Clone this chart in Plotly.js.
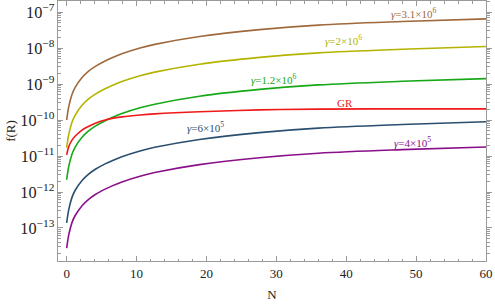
<!DOCTYPE html>
<html>
<head>
<meta charset="utf-8">
<script src="https://cdn.plot.ly/plotly-3.0.1.min.js"></script>
<style>html,body{margin:0;padding:0;background:#fff;}#chart{width:495px;height:307px;}</style>
</head>
<body>
<div id="chart"></div>
<script>
// N values (x axis)
const N = [0, 0.3, 0.76, 1.2, 2.2, 3.1, 4.1, 5.5, 6.5, 7.9, 10.5, 12.6, 19, 27.6, 36, 48, 60];
// f(R) series
const g31e6 = [1.0e-10, 2.34e-10, 5.13e-10, 7.94e-10, 1.51e-9, 2.24e-9, 3.09e-9, 4.37e-9, 5.37e-9, 6.92e-9, 1.0e-8, 1.26e-8, 2.09e-8, 3.24e-8, 4.32e-8, 5.43e-8, 6.46e-8];
const g2e6  = [1.70e-11, 3.98e-11, 8.71e-11, 1.35e-10, 2.57e-10, 3.80e-10, 5.25e-10, 7.41e-10, 9.12e-10, 1.175e-9, 1.70e-9, 2.14e-9, 3.55e-9, 5.50e-9, 7.33e-9, 9.23e-9, 1.10e-8];
const g12e6 = [2.19e-12, 5.13e-12, 1.12e-11, 1.74e-11, 3.31e-11, 4.90e-11, 6.76e-11, 9.55e-11, 1.175e-10, 1.51e-10, 2.19e-10, 2.75e-10, 4.57e-10, 7.08e-10, 9.44e-10, 1.19e-9, 1.41e-9];
const gr    = [1.07e-11, 1.82e-11, 2.75e-11, 3.55e-11, 5.25e-11, 6.61e-11, 8.13e-11, 1.0e-10, 1.11e-10, 1.22e-10, 1.38e-10, 1.48e-10, 1.70e-10, 1.91e-10, 2.0e-10, 2.04e-10, 2.04e-10];
const g6e5  = [1.38e-13, 3.24e-13, 7.08e-13, 1.10e-12, 2.09e-12, 3.09e-12, 4.27e-12, 6.03e-12, 7.41e-12, 9.55e-12, 1.38e-11, 1.74e-11, 2.88e-11, 4.47e-11, 5.96e-11, 7.50e-11, 8.91e-11];
const g4e5  = [2.75e-14, 6.46e-14, 1.41e-13, 2.19e-13, 4.17e-13, 6.17e-13, 8.51e-13, 1.20e-12, 1.48e-12, 1.91e-12, 2.75e-12, 3.47e-12, 5.75e-12, 8.91e-12, 1.19e-11, 1.50e-11, 1.78e-11];

const seriesNames = ['γ=3.1×10⁶', 'γ=2×10⁶', 'γ=1.2×10⁶', 'GR', 'γ=6×10⁵', 'γ=4×10⁵'];
const seriesData = [g31e6, g2e6, g12e6, gr, g6e5, g4e5];
const colors = ['#a0693c', '#b4b400', '#16a816', '#f01818', '#2a4f6e', '#8a108a'];

// label texts and anchor positions (N, value)
const labelTexts = ['<i>γ</i>=3.1×10<sup>6</sup>', '<i>γ</i>=2×10<sup>6</sup>', '<i>γ</i>=1.2×10<sup>6</sup>', 'GR', '<i>γ</i>=6×10<sup>5</sup>', '<i>γ</i>=4×10<sup>5</sup>'];
const labelN = [49.7, 39.6, 29.7, 39.8, 19.9, 49.5];
const labelV = [9.5e-8, 1.62e-8, 1.35e-9, 2.95e-10, 6.2e-11, 2.47e-11];

const traces = seriesData.map((d, i) => ({
  x: N, y: d, type: 'scatter', mode: 'lines', name: seriesNames[i],
  line: {color: colors[i], width: 1.6, shape: 'spline', smoothing: 1.0},
  hoverinfo: 'skip'
}));
// invisible trace to carry the right-hand frame axis
traces.push({x: N, y: gr, yaxis: 'y2', type: 'scatter', mode: 'lines', line: {width: 0}, opacity: 0, hoverinfo: 'skip', showlegend: false});

const tickFont = {family: 'Liberation Serif, Times New Roman, serif', size: 13, color: '#222'};
const frameColor = '#9a9a9a';
const yr = [-13.917, -6.694];

const annotations = labelTexts.map((t, i) => ({
  x: labelN[i], y: Math.log10(labelV[i]), xref: 'x', yref: 'y', text: t, showarrow: false,
  font: {family: 'Liberation Serif, Times New Roman, serif', size: 11, color: colors[i]},
  xanchor: 'center', yanchor: 'middle'
}));

const layout = {
  width: 495, height: 307,
  margin: {l: 58, r: 9, t: 1, b: 46},
  paper_bgcolor: '#fff', plot_bgcolor: '#fff',
  showlegend: false,
  xaxis: {
    range: [-1.24, 60], showgrid: false, zeroline: false,
    showline: true, linecolor: frameColor, linewidth: 1, mirror: 'ticks',
    ticks: 'inside', ticklen: 5, tickcolor: frameColor, tickwidth: 1,
    tick0: 0, dtick: 10,
    minor: {ticks: 'inside', ticklen: 2.5, dtick: 2, tickcolor: frameColor, showgrid: false},
    tickfont: tickFont,
    title: {text: 'N', font: {family: 'Liberation Serif, Times New Roman, serif', size: 13, color: '#222'}, standoff: 10}
  },
  yaxis: {
    type: 'log', range: yr, showgrid: false, zeroline: false,
    showline: true, linecolor: frameColor, linewidth: 1, mirror: true,
    ticks: 'inside', ticklen: 5, tickcolor: frameColor, tickwidth: 1,
    dtick: 1, exponentformat: 'power',
    minor: {ticks: 'inside', ticklen: 2.5, tickcolor: frameColor, showgrid: false},
    tickfont: tickFont,
    title: {text: 'f(R)', font: {family: 'Liberation Serif, Times New Roman, serif', size: 13, color: '#222'}, standoff: 1}
  },
  yaxis2: {
    type: 'log', range: yr, overlaying: 'y', side: 'right', showgrid: false, zeroline: false,
    showline: false, ticks: 'outside', ticklen: 5, tickcolor: frameColor, tickwidth: 1,
    dtick: 1, showticklabels: false,
    minor: {ticks: 'outside', ticklen: 2.5, tickcolor: frameColor, showgrid: false}
  },
  annotations: annotations
};

Plotly.newPlot('chart', traces, layout, {staticPlot: true, displayModeBar: false});
</script>
</body>
</html>
